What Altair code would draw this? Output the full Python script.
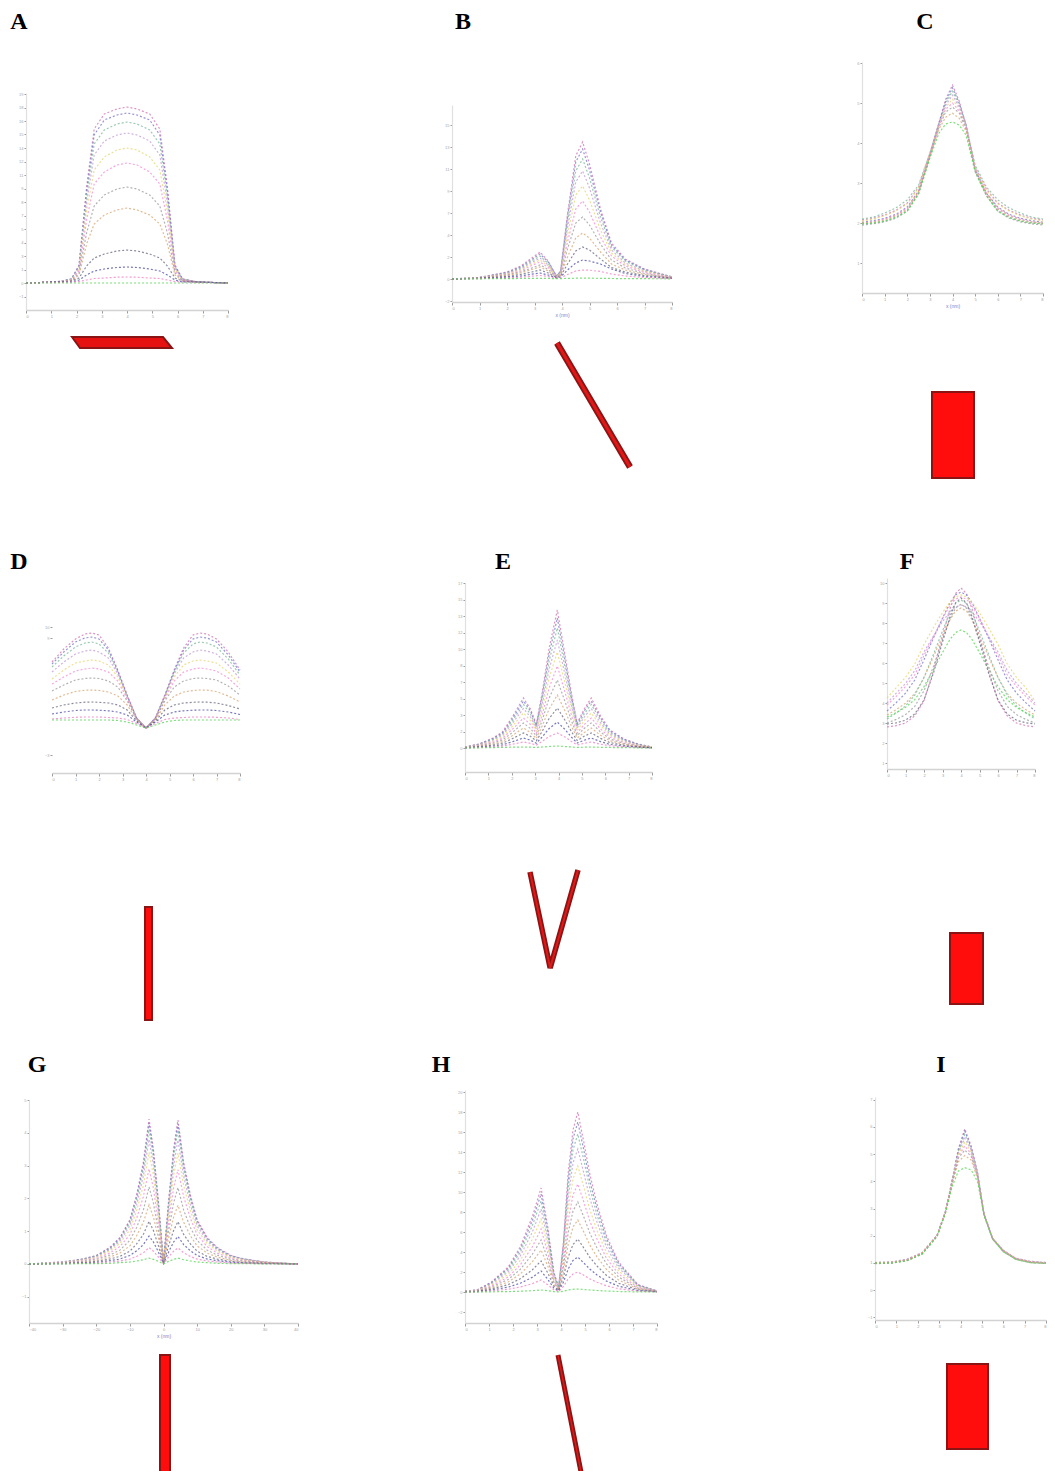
import altair as alt
import pandas as pd

# ---------------- values ----------------
X08 = [0, 1, 2, 3, 4, 5, 6, 7, 8]
G_XT = [-40, -30, -20, -10, 0, 10, 20, 30, 40]

A_YT = [-1.35, 0, 1.35, 2.7, 4.05, 5.4, 6.75, 8.1, 9.45, 10.8, 12.15, 13.5, 14.85, 16.2, 17.55, 18.9]
B_YT = [-2.2, 0, 2.2, 4.4, 6.6, 8.8, 11.0, 13.2, 15.4]
C_YT = [1, 2, 3, 4, 5, 6]
D_YT = [-2.7, 9.0, 10.1]
E_YT = [0, 1.65, 3.3, 4.95, 6.6, 8.25, 9.9, 11.55, 13.2, 14.85, 16.5]
F_YT = [1, 2, 3, 4, 5, 6, 7, 8, 9, 10]
G_YT = [-1, 0, 1, 2, 3, 4, 5]
H_YT = [-2, 0, 2, 4, 6, 8, 10, 12, 14, 16, 18, 20]
I_YT = [-1, 0, 1, 2, 3, 4, 5, 6, 7]

A_X = [0, 1.2, 1.8, 2.1, 2.4, 2.7, 3.1, 3.6, 4.0, 4.4, 4.9, 5.3, 5.6, 5.9, 6.2, 6.8, 8]
A_CURVES = [
    [0.0, 0.1, 0.4, 1.8, 9.6, 15.4, 16.9, 17.4, 17.6, 17.4, 16.9, 15.4, 9.6, 1.8, 0.4, 0.1, 0.0],
    [0.0, 0.1, 0.4, 1.7, 9.2, 14.8, 16.3, 16.8, 17.0, 16.8, 16.3, 14.8, 9.2, 1.7, 0.4, 0.1, 0.0],
    [0.0, 0.1, 0.4, 1.6, 8.7, 13.9, 15.3, 15.9, 16.1, 15.9, 15.3, 13.9, 8.7, 1.6, 0.4, 0.1, 0.0],
    [0.0, 0.1, 0.3, 1.5, 8.0, 12.8, 14.2, 14.8, 15.0, 14.8, 14.2, 12.8, 8.0, 1.5, 0.3, 0.1, 0.0],
    [0.0, 0.1, 0.3, 1.4, 7.2, 11.3, 12.6, 13.3, 13.5, 13.3, 12.6, 11.3, 7.2, 1.4, 0.3, 0.1, 0.0],
    [0.0, 0.1, 0.3, 1.2, 6.3, 9.9, 11.1, 11.8, 12.0, 11.8, 11.1, 9.9, 6.3, 1.2, 0.3, 0.1, 0.0],
    [0.0, 0.1, 0.2, 1.0, 5.0, 7.7, 8.8, 9.4, 9.6, 9.4, 8.8, 7.7, 5.0, 1.0, 0.2, 0.1, 0.0],
    [0.0, 0.1, 0.2, 0.8, 3.9, 5.9, 6.8, 7.3, 7.5, 7.3, 6.8, 5.9, 3.9, 0.8, 0.2, 0.1, 0.0],
    [0.0, 0.1, 0.2, 0.5, 1.7, 2.5, 2.9, 3.2, 3.3, 3.2, 2.9, 2.5, 1.7, 0.5, 0.2, 0.1, 0.0],
    [0.0, 0.1, 0.1, 0.3, 0.8, 1.2, 1.4, 1.55, 1.6, 1.55, 1.4, 1.2, 0.8, 0.3, 0.1, 0.1, 0.0],
    [0.0, 0.05, 0.1, 0.15, 0.3, 0.45, 0.5, 0.58, 0.6, 0.58, 0.5, 0.45, 0.3, 0.15, 0.1, 0.05, 0.0],
    [0.0, 0.0, 0.0, 0.0, 0.0, 0.0, 0.0, 0.0, 0.0, 0.0, 0.0, 0.0, 0.0, 0.0, 0.0, 0.0, 0.0],
]

B_X = [0, 1, 2, 2.5, 2.9, 3.2, 3.5, 3.8, 3.95, 4.2, 4.5, 4.75, 5.0, 5.4, 5.8, 6.3, 7, 8]
B_CURVES = [
    [0.0, 0.15, 0.7, 1.3, 2.1, 2.7, 1.8, 0.3, 0.8, 6.5, 12.3, 13.7, 11.5, 7.0, 3.6, 2.0, 1.0, 0.2],
    [0.0, 0.15, 0.65, 1.2, 1.95, 2.5, 1.7, 0.3, 0.8, 6.2, 11.7, 13.0, 10.9, 6.7, 3.4, 1.9, 0.95, 0.2],
    [0.0, 0.14, 0.6, 1.1, 1.8, 2.3, 1.55, 0.3, 0.7, 5.7, 10.8, 12.0, 10.1, 6.2, 3.2, 1.8, 0.9, 0.2],
    [0.0, 0.13, 0.55, 1.0, 1.65, 2.1, 1.4, 0.25, 0.65, 5.1, 9.7, 10.8, 9.1, 5.6, 2.9, 1.6, 0.8, 0.2],
    [0.0, 0.12, 0.5, 0.9, 1.5, 1.9, 1.3, 0.25, 0.6, 4.4, 8.4, 9.3, 7.9, 4.9, 2.6, 1.45, 0.75, 0.15],
    [0.0, 0.11, 0.45, 0.8, 1.35, 1.7, 1.15, 0.2, 0.5, 3.7, 7.0, 7.8, 6.7, 4.2, 2.3, 1.3, 0.65, 0.15],
    [0.0, 0.1, 0.4, 0.7, 1.1, 1.4, 0.95, 0.2, 0.45, 3.0, 5.6, 6.2, 5.4, 3.5, 1.9, 1.1, 0.55, 0.1],
    [0.0, 0.1, 0.35, 0.6, 0.95, 1.2, 0.8, 0.15, 0.35, 2.2, 4.1, 4.6, 4.1, 2.7, 1.5, 0.9, 0.45, 0.1],
    [0.0, 0.08, 0.25, 0.45, 0.7, 0.9, 0.6, 0.15, 0.3, 1.5, 2.8, 3.2, 2.9, 2.0, 1.15, 0.7, 0.35, 0.1],
    [0.0, 0.06, 0.18, 0.3, 0.48, 0.6, 0.4, 0.1, 0.2, 0.9, 1.6, 1.9, 1.8, 1.5, 1.0, 0.55, 0.25, 0.05],
    [0.0, 0.04, 0.1, 0.18, 0.28, 0.35, 0.25, 0.08, 0.12, 0.45, 0.8, 0.9, 0.88, 0.75, 0.5, 0.3, 0.15, 0.05],
    [0.0, 0.02, 0.04, 0.05, 0.06, 0.07, 0.06, 0.03, 0.04, 0.06, 0.08, 0.08, 0.08, 0.07, 0.05, 0.04, 0.03, 0.02],
]

C_X = [0, 0.5, 1, 1.5, 2, 2.5, 3, 3.4, 3.7, 4.0, 4.3, 4.6, 5, 5.5, 6, 6.5, 7, 7.5, 8]
C_CURVES = [
    [2.08, 2.12, 2.2, 2.32, 2.5, 2.9, 3.75, 4.5, 5.1, 5.45, 5.05, 4.45, 3.4, 2.85, 2.5, 2.32, 2.2, 2.12, 2.08],
    [2.02, 2.06, 2.12, 2.22, 2.4, 2.8, 3.7, 4.5, 5.05, 5.38, 5.0, 4.45, 3.35, 2.75, 2.4, 2.22, 2.12, 2.06, 2.02],
    [2.1, 2.15, 2.25, 2.38, 2.58, 2.95, 3.75, 4.5, 5.0, 5.3, 4.95, 4.45, 3.45, 2.9, 2.58, 2.38, 2.25, 2.15, 2.1],
    [1.98, 2.0, 2.05, 2.15, 2.32, 2.75, 3.68, 4.48, 4.95, 5.2, 4.9, 4.42, 3.3, 2.7, 2.32, 2.15, 2.05, 2.0, 1.98],
    [2.05, 2.1, 2.18, 2.3, 2.48, 2.88, 3.72, 4.45, 4.9, 5.1, 4.85, 4.4, 3.4, 2.82, 2.48, 2.3, 2.18, 2.1, 2.05],
    [2.0, 2.03, 2.1, 2.2, 2.38, 2.8, 3.7, 4.45, 4.85, 5.0, 4.8, 4.4, 3.35, 2.75, 2.38, 2.2, 2.1, 2.03, 2.0],
    [1.95, 1.98, 2.03, 2.12, 2.3, 2.74, 3.66, 4.4, 4.78, 4.9, 4.75, 4.35, 3.3, 2.68, 2.3, 2.12, 2.03, 1.98, 1.95],
    [2.0, 2.02, 2.08, 2.18, 2.35, 2.78, 3.66, 4.35, 4.65, 4.75, 4.62, 4.3, 3.32, 2.72, 2.35, 2.18, 2.08, 2.02, 2.0],
    [1.98, 2.0, 2.05, 2.14, 2.3, 2.72, 3.62, 4.25, 4.48, 4.53, 4.45, 4.2, 3.28, 2.68, 2.3, 2.14, 2.05, 2.0, 1.98],
]

D_X = [0, 0.5, 1.0, 1.4, 1.7, 2.0, 2.4, 2.8, 3.2, 3.6, 4.0, 4.4, 4.8, 5.2, 5.6, 6.0, 6.3, 6.6, 7.0, 7.5, 8.0]
D_CURVES = [
    [6.6, 7.9, 8.9, 9.4, 9.5, 9.3, 8.0, 5.8, 3.3, 1.0, 0.0, 1.0, 3.3, 5.8, 8.0, 9.3, 9.5, 9.4, 8.9, 7.6, 5.8],
    [6.4, 7.6, 8.6, 9.0, 9.1, 8.9, 7.8, 5.7, 3.2, 1.0, 0.0, 1.0, 3.2, 5.7, 7.8, 8.9, 9.1, 9.0, 8.6, 7.3, 5.6],
    [6.1, 7.2, 8.1, 8.5, 8.6, 8.4, 7.5, 5.6, 3.2, 1.0, 0.0, 1.0, 3.2, 5.6, 7.5, 8.4, 8.6, 8.5, 8.1, 6.9, 5.3],
    [5.6, 6.6, 7.4, 7.7, 7.8, 7.6, 7.0, 5.4, 3.1, 1.0, 0.0, 1.0, 3.1, 5.4, 7.0, 7.6, 7.8, 7.7, 7.4, 6.3, 4.9],
    [4.9, 5.8, 6.5, 6.7, 6.8, 6.7, 6.3, 5.1, 3.0, 0.9, 0.0, 0.9, 3.0, 5.1, 6.3, 6.7, 6.8, 6.7, 6.5, 5.6, 4.4],
    [4.4, 5.1, 5.7, 5.9, 6.0, 5.9, 5.6, 4.7, 2.9, 0.9, 0.0, 0.9, 2.9, 4.7, 5.6, 5.9, 6.0, 5.9, 5.7, 5.0, 3.9],
    [3.7, 4.3, 4.8, 4.95, 5.0, 4.95, 4.7, 4.1, 2.7, 0.9, 0.0, 0.9, 2.7, 4.1, 4.7, 4.95, 5.0, 4.95, 4.8, 4.2, 3.3],
    [2.8, 3.3, 3.65, 3.78, 3.8, 3.75, 3.6, 3.2, 2.3, 0.8, 0.0, 0.8, 2.3, 3.2, 3.6, 3.75, 3.8, 3.78, 3.65, 3.2, 2.6],
    [2.0, 2.3, 2.5, 2.58, 2.6, 2.57, 2.5, 2.3, 1.8, 0.7, 0.0, 0.7, 1.8, 2.3, 2.5, 2.57, 2.6, 2.58, 2.5, 2.25, 1.9],
    [1.4, 1.6, 1.75, 1.8, 1.8, 1.78, 1.72, 1.6, 1.3, 0.6, 0.0, 0.6, 1.3, 1.6, 1.72, 1.78, 1.8, 1.8, 1.75, 1.6, 1.35],
    [0.9, 1.0, 1.07, 1.1, 1.1, 1.1, 1.05, 1.0, 0.85, 0.45, 0.0, 0.45, 0.85, 1.0, 1.05, 1.1, 1.1, 1.1, 1.07, 1.0, 0.85],
    [0.8, 0.8, 0.8, 0.8, 0.8, 0.8, 0.8, 0.75, 0.6, 0.3, 0.0, 0.3, 0.6, 0.75, 0.8, 0.8, 0.8, 0.8, 0.8, 0.8, 0.8],
]

E_X = [0, 0.6, 1.2, 1.6, 2.0, 2.5, 2.8, 3.05, 3.3, 3.6, 3.95, 4.3, 4.55, 4.8, 5.1, 5.4, 5.8, 6.2, 6.8, 7.4, 8]
E_CURVES = [
    [0.1, 0.4, 1.0, 1.6, 3.0, 5.0, 3.9, 2.4, 5.5, 10.0, 13.8, 9.0, 5.5, 2.5, 3.9, 5.0, 3.2, 1.8, 0.9, 0.4, 0.1],
    [0.1, 0.38, 0.94, 1.5, 2.8, 4.7, 3.7, 2.25, 5.2, 9.4, 13.0, 8.5, 5.2, 2.35, 3.7, 4.7, 3.0, 1.7, 0.85, 0.38, 0.1],
    [0.1, 0.35, 0.87, 1.4, 2.6, 4.35, 3.4, 2.1, 4.8, 8.7, 12.0, 7.8, 4.8, 2.2, 3.4, 4.35, 2.8, 1.55, 0.8, 0.35, 0.1],
    [0.08, 0.32, 0.79, 1.26, 2.37, 3.95, 3.1, 1.9, 4.35, 7.9, 10.8, 7.1, 4.35, 2.0, 3.1, 3.95, 2.5, 1.4, 0.72, 0.32, 0.08],
    [0.07, 0.28, 0.7, 1.12, 2.1, 3.5, 2.75, 1.7, 3.85, 7.0, 9.6, 6.3, 3.85, 1.75, 2.75, 3.5, 2.25, 1.26, 0.63, 0.28, 0.07],
    [0.06, 0.24, 0.6, 0.96, 1.8, 3.0, 2.35, 1.45, 3.3, 6.0, 8.2, 5.4, 3.3, 1.5, 2.35, 3.0, 1.9, 1.08, 0.54, 0.24, 0.06],
    [0.05, 0.2, 0.5, 0.8, 1.5, 2.5, 1.95, 1.2, 2.75, 5.0, 6.8, 4.5, 2.75, 1.25, 1.95, 2.5, 1.6, 0.9, 0.45, 0.2, 0.05],
    [0.04, 0.16, 0.4, 0.64, 1.2, 2.0, 1.55, 0.95, 2.2, 3.9, 5.3, 3.6, 2.2, 1.0, 1.55, 2.0, 1.28, 0.72, 0.36, 0.16, 0.04],
    [0.03, 0.12, 0.3, 0.48, 0.9, 1.5, 1.17, 0.72, 1.65, 2.95, 4.0, 2.7, 1.65, 0.75, 1.17, 1.5, 0.96, 0.54, 0.27, 0.12, 0.03],
    [0.02, 0.08, 0.2, 0.32, 0.6, 1.0, 0.78, 0.48, 1.1, 1.95, 2.6, 1.8, 1.1, 0.5, 0.78, 1.0, 0.64, 0.36, 0.18, 0.08, 0.02],
    [0.01, 0.05, 0.12, 0.19, 0.36, 0.6, 0.47, 0.29, 0.66, 1.15, 1.5, 1.08, 0.66, 0.3, 0.47, 0.6, 0.38, 0.22, 0.11, 0.05, 0.01],
    [0.0, 0.02, 0.04, 0.06, 0.08, 0.1, 0.08, 0.06, 0.1, 0.15, 0.2, 0.14, 0.1, 0.06, 0.08, 0.1, 0.07, 0.05, 0.03, 0.02, 0.0],
]

F_X = [0, 0.5, 1, 1.5, 2, 2.5, 3, 3.4, 3.7, 4.0, 4.3, 4.6, 5, 5.5, 6, 6.5, 7, 7.5, 8]
F_CURVES = [
    [2.8, 2.87, 3.0, 3.36, 4.12, 5.58, 7.32, 8.7, 9.47, 9.75, 9.47, 8.7, 7.32, 5.58, 4.12, 3.36, 3.0, 2.87, 2.8],
    [3.6, 4.02, 4.49, 5.15, 6.16, 7.23, 8.24, 9.01, 9.4, 9.55, 9.4, 9.01, 8.24, 7.23, 6.16, 5.15, 4.49, 4.02, 3.6],
    [3.2, 3.5, 3.85, 4.39, 5.28, 6.41, 7.6, 8.5, 8.97, 9.15, 8.97, 8.5, 7.6, 6.41, 5.28, 4.39, 3.85, 3.5, 3.2],
    [4.0, 4.49, 4.98, 5.62, 6.55, 7.33, 8.07, 8.56, 8.8, 8.9, 8.8, 8.56, 8.07, 7.33, 6.55, 5.62, 4.98, 4.49, 4.0],
    [4.25, 4.77, 5.28, 5.95, 6.93, 7.75, 8.52, 9.04, 9.3, 9.4, 9.3, 9.04, 8.52, 7.75, 6.93, 5.95, 5.28, 4.77, 4.1],
    [3.9, 4.33, 4.82, 5.41, 6.38, 7.3, 8.22, 8.87, 9.19, 9.3, 9.19, 8.87, 8.22, 7.3, 6.38, 5.41, 4.82, 4.33, 3.9],
    [3.0, 3.18, 3.42, 3.83, 4.61, 5.8, 7.17, 8.18, 8.74, 8.95, 8.74, 8.18, 7.17, 5.8, 4.61, 3.83, 3.42, 3.18, 3.0],
    [3.4, 3.67, 3.99, 4.47, 5.27, 6.29, 7.36, 8.16, 8.59, 8.75, 8.59, 8.16, 7.36, 6.29, 5.27, 4.47, 3.99, 3.67, 3.4],
    [2.95, 3.01, 3.14, 3.45, 4.15, 5.47, 7.05, 8.3, 9.0, 9.25, 9.0, 8.3, 7.05, 5.47, 4.15, 3.45, 3.14, 3.01, 2.95],
    [3.3, 3.52, 3.78, 4.17, 4.82, 5.65, 6.52, 7.17, 7.52, 7.65, 7.52, 7.17, 6.52, 5.65, 4.82, 4.17, 3.78, 3.52, 3.3],
]

G_X = [-40, -30, -24, -20, -16, -13, -10, -8, -6, -4.3, -3, -1.5, 0, 1.5, 3, 4.3, 6, 8, 10, 13, 16, 20, 24, 30, 40]
G_CURVES = [
    [0.0, 0.06, 0.15, 0.26, 0.5, 0.8, 1.35, 2.1, 3.1, 4.42, 3.5, 1.9, 0.05, 1.9, 3.5, 4.39, 3.1, 2.1, 1.35, 0.8, 0.5, 0.26, 0.15, 0.06, 0.0],
    [0.0, 0.06, 0.15, 0.25, 0.48, 0.78, 1.31, 2.04, 3.0, 4.3, 3.4, 1.85, 0.05, 1.85, 3.4, 4.27, 3.0, 2.04, 1.31, 0.78, 0.48, 0.25, 0.15, 0.06, 0.0],
    [0.0, 0.05, 0.14, 0.24, 0.46, 0.74, 1.25, 1.95, 2.88, 4.1, 3.25, 1.77, 0.05, 1.77, 3.25, 4.08, 2.88, 1.95, 1.25, 0.74, 0.46, 0.24, 0.14, 0.05, 0.0],
    [0.0, 0.05, 0.13, 0.22, 0.43, 0.69, 1.16, 1.8, 2.67, 3.8, 3.0, 1.63, 0.04, 1.63, 3.0, 3.78, 2.67, 1.8, 1.16, 0.69, 0.43, 0.22, 0.13, 0.05, 0.0],
    [0.0, 0.05, 0.12, 0.2, 0.39, 0.62, 1.04, 1.62, 2.39, 3.4, 2.7, 1.46, 0.04, 1.46, 2.7, 3.38, 2.39, 1.62, 1.04, 0.62, 0.39, 0.2, 0.12, 0.05, 0.0],
    [0.0, 0.04, 0.1, 0.17, 0.33, 0.53, 0.89, 1.39, 2.05, 2.9, 2.31, 1.25, 0.03, 1.25, 2.31, 2.88, 2.05, 1.39, 0.89, 0.53, 0.33, 0.17, 0.1, 0.04, 0.0],
    [0.0, 0.03, 0.08, 0.14, 0.27, 0.42, 0.72, 1.11, 1.64, 2.35, 1.86, 1.0, 0.03, 1.0, 1.86, 2.33, 1.64, 1.11, 0.72, 0.42, 0.27, 0.14, 0.08, 0.03, 0.0],
    [0.0, 0.02, 0.06, 0.11, 0.21, 0.33, 0.55, 0.86, 1.27, 1.8, 1.43, 0.78, 0.02, 0.78, 1.43, 1.79, 1.27, 0.86, 0.55, 0.33, 0.21, 0.11, 0.06, 0.02, 0.0],
    [0.0, 0.02, 0.04, 0.08, 0.15, 0.23, 0.39, 0.61, 0.9, 1.3, 1.02, 0.55, 0.02, 0.55, 1.02, 1.29, 0.9, 0.61, 0.39, 0.23, 0.15, 0.08, 0.04, 0.02, 0.0],
    [0.0, 0.01, 0.03, 0.05, 0.1, 0.15, 0.26, 0.4, 0.59, 0.85, 0.67, 0.36, 0.01, 0.36, 0.67, 0.84, 0.59, 0.4, 0.26, 0.15, 0.1, 0.05, 0.03, 0.01, 0.0],
    [0.0, 0.01, 0.02, 0.03, 0.06, 0.09, 0.15, 0.23, 0.34, 0.5, 0.39, 0.21, 0.01, 0.21, 0.39, 0.49, 0.34, 0.23, 0.15, 0.09, 0.06, 0.03, 0.02, 0.01, 0.0],
    [0.0, 0.0, 0.01, 0.01, 0.02, 0.04, 0.06, 0.09, 0.13, 0.18, 0.14, 0.08, 0.0, 0.08, 0.14, 0.18, 0.13, 0.09, 0.06, 0.04, 0.02, 0.01, 0.01, 0.0, 0.0],
]

H_X = [0, 0.5, 1.1, 1.8, 2.3, 2.8, 3.17, 3.45, 3.7, 3.9, 4.1, 4.3, 4.5, 4.7, 4.95, 5.2, 5.5, 5.9, 6.4, 7.2, 8]
H_CURVES = [
    [0.1, 0.2, 1.0, 2.5, 4.5, 7.5, 10.4, 6.5, 2.0, 0.5, 5.0, 11.9, 16.2, 18.0, 15.0, 11.8, 8.8, 5.6, 3.0, 0.75, 0.1],
    [0.1, 0.19, 0.94, 2.36, 4.25, 7.1, 9.8, 6.1, 1.9, 0.45, 4.7, 11.2, 15.3, 17.0, 14.2, 11.1, 8.3, 5.3, 2.85, 0.7, 0.1],
    [0.09, 0.18, 0.88, 2.2, 3.95, 6.6, 9.1, 5.7, 1.75, 0.42, 4.4, 10.4, 14.2, 15.8, 13.2, 10.4, 7.7, 4.9, 2.65, 0.66, 0.09],
    [0.08, 0.16, 0.8, 2.0, 3.6, 5.95, 8.3, 5.15, 1.6, 0.4, 4.0, 9.45, 12.9, 14.3, 11.9, 9.4, 7.0, 4.45, 2.4, 0.6, 0.08],
    [0.07, 0.14, 0.7, 1.75, 3.15, 5.25, 7.3, 4.55, 1.4, 0.35, 3.5, 8.3, 11.3, 12.6, 10.5, 8.25, 6.15, 3.9, 2.1, 0.53, 0.07],
    [0.06, 0.12, 0.6, 1.5, 2.7, 4.5, 6.3, 3.9, 1.2, 0.3, 3.0, 7.15, 9.7, 10.8, 9.0, 7.1, 5.3, 3.35, 1.8, 0.45, 0.06],
    [0.05, 0.1, 0.5, 1.25, 2.25, 3.75, 5.2, 3.25, 1.0, 0.25, 2.5, 5.95, 8.1, 9.0, 7.5, 5.9, 4.4, 2.8, 1.5, 0.38, 0.05],
    [0.04, 0.08, 0.4, 1.0, 1.8, 3.0, 4.2, 2.6, 0.8, 0.2, 2.0, 4.75, 6.5, 7.2, 6.0, 4.7, 3.5, 2.25, 1.2, 0.3, 0.04],
    [0.03, 0.06, 0.3, 0.74, 1.32, 2.2, 3.1, 1.9, 0.6, 0.15, 1.47, 3.5, 4.75, 5.3, 4.4, 3.47, 2.6, 1.65, 0.88, 0.22, 0.03],
    [0.02, 0.04, 0.2, 0.49, 0.87, 1.46, 2.1, 1.26, 0.39, 0.1, 0.97, 2.3, 3.15, 3.5, 2.9, 2.3, 1.7, 1.09, 0.58, 0.15, 0.02],
    [0.01, 0.02, 0.11, 0.28, 0.5, 0.83, 1.2, 0.72, 0.22, 0.06, 0.55, 1.32, 1.8, 2.0, 1.67, 1.31, 0.98, 0.62, 0.33, 0.08, 0.01],
    [0.0, 0.0, 0.02, 0.04, 0.08, 0.13, 0.2, 0.12, 0.04, 0.01, 0.08, 0.2, 0.27, 0.3, 0.25, 0.2, 0.15, 0.1, 0.05, 0.01, 0.0],
]

I_X = [0, 0.8, 1.5, 2.2, 2.9, 3.3, 3.6, 3.9, 4.2, 4.5, 4.8, 5.1, 5.5, 6.0, 6.6, 7.3, 8]
I_CURVES = [
    [0.98, 1.0, 1.1, 1.35, 2.0, 2.9, 4.0, 5.2, 5.93, 5.3, 4.3, 2.8, 1.9, 1.45, 1.15, 1.03, 1.0],
    [1.0, 1.02, 1.12, 1.36, 2.0, 2.9, 4.0, 5.15, 5.85, 5.25, 4.3, 2.8, 1.9, 1.45, 1.15, 1.04, 1.0],
    [0.97, 0.99, 1.08, 1.33, 1.98, 2.88, 3.98, 5.1, 5.72, 5.2, 4.28, 2.78, 1.88, 1.42, 1.13, 1.01, 0.98],
    [1.02, 1.04, 1.14, 1.38, 2.02, 2.9, 3.97, 5.05, 5.58, 5.15, 4.25, 2.8, 1.92, 1.47, 1.17, 1.06, 1.02],
    [0.99, 1.01, 1.1, 1.34, 1.99, 2.88, 3.95, 4.98, 5.45, 5.08, 4.22, 2.78, 1.89, 1.43, 1.14, 1.02, 0.99],
    [1.0, 1.02, 1.11, 1.35, 2.0, 2.88, 3.93, 4.92, 5.3, 5.0, 4.2, 2.79, 1.9, 1.44, 1.15, 1.03, 1.0],
    [0.98, 1.0, 1.09, 1.33, 1.97, 2.86, 3.9, 4.85, 5.15, 4.92, 4.16, 2.77, 1.88, 1.42, 1.13, 1.01, 0.98],
    [1.01, 1.03, 1.12, 1.36, 2.0, 2.87, 3.87, 4.72, 4.95, 4.78, 4.1, 2.78, 1.9, 1.45, 1.16, 1.04, 1.01],
    [0.99, 1.0, 1.08, 1.32, 1.96, 2.83, 3.78, 4.38, 4.5, 4.42, 3.98, 2.74, 1.87, 1.41, 1.12, 1.0, 0.99],
]

LETTERS = ["A", "B", "C", "D", "E", "F", "G", "H", "I"]
X_TITLE = "x (nm)"

# ---------------- styling / layout ----------------
W, H, M = 1039, 1463, 8
PALETTE = ["#d070b0", "#7474c8", "#78b898", "#c09ad6", "#e6d670", "#f48ad6",
           "#9a9a9a", "#d8a470", "#66667e", "#4a4aa8", "#f07cc0"]
GREEN = "#4cd84c"
RED = "#ff0d0d"
DARK_RED = "#8a1414"

PANELS = {
    "A": dict(xs=A_X, cs=A_CURVES, xdom=[0, 8], xpx=[26, 228], ydom=[-2.7, 19.0], ypx=[310, 93], xt=X08, yt=A_YT, pos=(19, 22)),
    "B": dict(xs=B_X, cs=B_CURVES, xdom=[0, 8], xpx=[452, 672], ydom=[-2.3, 17.4], ypx=[302, 105], xt=X08, yt=B_YT, pos=(463, 22), title=True),
    "C": dict(xs=C_X, cs=C_CURVES, xdom=[0, 8], xpx=[862, 1043], ydom=[0.25, 6.03], ypx=[293, 62], xt=X08, yt=C_YT, pos=(925, 22), title=True),
    "D": dict(xs=D_X, cs=D_CURVES, xdom=[0, 8], xpx=[52, 240], ydom=[-4.5, 10.8], ypx=[773, 620], xt=X08, yt=D_YT, pos=(19, 562), nodomain=True),
    "E": dict(xs=E_X, cs=E_CURVES, xdom=[0, 8], xpx=[465, 652], ydom=[-2.4, 16.5], ypx=[772, 583], xt=X08, yt=E_YT, pos=(503, 562)),
    "F": dict(xs=F_X, cs=F_CURVES, xdom=[0, 8], xpx=[887, 1035], ydom=[0.7, 10.25], ypx=[769, 578], xt=X08, yt=F_YT, pos=(907, 562)),
    "G": dict(xs=G_X, cs=G_CURVES, xdom=[-40, 40], xpx=[29, 298], ydom=[-1.8, 5.0], ypx=[1323, 1100], xt=G_XT, yt=G_YT, pos=(37, 1065), title=True),
    "H": dict(xs=H_X, cs=H_CURVES, xdom=[0, 8], xpx=[465, 657], ydom=[-3.1, 20.2], ypx=[1323, 1090], xt=X08, yt=H_YT, pos=(441, 1065)),
    "I": dict(xs=I_X, cs=I_CURVES, xdom=[0, 8], xpx=[875, 1046], ydom=[-1.1, 7.1], ypx=[1320, 1097], xt=X08, yt=I_YT, pos=(941, 1065)),
}


def curves_frame(xs, curves, tag):
    rows = []
    for i, ys in enumerate(curves):
        for xv, yv in zip(xs, ys):
            rows.append({"x": xv, "y": yv, "curve": f"{tag}{i + 1:02d}"})
    return pd.DataFrame(rows)


def panel_chart(tag, p):
    df = curves_frame(p["xs"], p["cs"], tag)
    n = len(p["cs"])
    ids = [f"{tag}{i + 1:02d}" for i in range(n)]
    cols = PALETTE[: n - 1] + [GREEN]
    xaxis = alt.Axis(orient="bottom", offset=(p["ypx"][0] - M) - H, values=p["xt"], grid=False,
                     domainColor="#d2d2d2", domainWidth=1.6, tickColor="#9a9a9a", tickSize=3,
                     labelFontSize=4, labelColor="#a0a0a0", labelPadding=1,
                     title=X_TITLE if p.get("title") else None, titleFontSize=5,
                     titleColor="#8080c8", titleFontWeight="normal", titlePadding=2)
    yaxis = alt.Axis(orient="left", offset=-(p["xpx"][0] - M), values=p["yt"], grid=False,
                     domain=not p.get("nodomain", False),
                     domainColor="#e0e0e0", domainWidth=1.2, tickColor="#9a9a9a", tickSize=2,
                     labelFontSize=4, labelColor="#a8a8a8", labelPadding=1, title=None)
    return alt.Chart(df).mark_line(strokeWidth=1.2, strokeDash=[2, 2], opacity=0.75).encode(
        x=alt.X("x:Q", scale=alt.Scale(domain=p["xdom"], range=[v - M for v in p["xpx"]], nice=False, zero=False), axis=xaxis),
        y=alt.Y("y:Q", scale=alt.Scale(domain=p["ydom"], range=[v - M for v in p["ypx"]], nice=False, zero=False), axis=yaxis),
        color=alt.Color("curve:N", scale=alt.Scale(domain=ids, range=cols), legend=None),
    )


def letter_chart(letter, pos):
    return alt.Chart(pd.DataFrame({"t": [letter]})).mark_text(
        font="Liberation Serif", fontWeight="bold", fontSize=24, color="black",
        align="center", baseline="middle").encode(
        x=alt.value(pos[0] - M), y=alt.value(pos[1] - M), text="t:N")


def box_scales(bx, by):
    sx = alt.Scale(domain=[0, 1], range=[bx[0] - M, bx[1] - M], nice=False, zero=False)
    sy = alt.Scale(domain=[0, 1], range=[by[0] - M, by[1] - M], nice=False, zero=False)
    return sx, sy


def rect_shape(bx, by):
    sx, sy = box_scales(bx, by)
    df = pd.DataFrame({"x0": [0.0], "x1": [1.0], "y0": [0.0], "y1": [1.0]})
    return alt.Chart(df).mark_rect(fill=RED, stroke=DARK_RED, strokeWidth=2).encode(
        x=alt.X("x0:Q", scale=sx, axis=None), x2="x1:Q",
        y=alt.Y("y0:Q", scale=sy, axis=None), y2="y1:Q")


def stroke_shape(xs, ys, bx, by, width):
    sx, sy = box_scales(bx, by)
    df = pd.DataFrame({"x": xs, "y": ys, "i": list(range(len(xs)))})
    enc = dict(x=alt.X("x:Q", scale=sx, axis=None), y=alt.Y("y:Q", scale=sy, axis=None), order="i:Q")
    outer = alt.Chart(df).mark_line(color=DARK_RED, strokeWidth=width, strokeCap="butt", strokeJoin="miter").encode(**enc)
    inner = alt.Chart(df).mark_line(color="#e01818", strokeWidth=max(width - 3.5, 1.5), strokeCap="butt", strokeJoin="miter").encode(**enc)
    return [outer, inner]


def slab_shape(bx, by):
    sx, sy = box_scales(bx, by)
    df = pd.DataFrame({"y": [0.0, 1.0], "xl": [0.08, 0.0], "xr": [1.0, 0.91]})
    return alt.Chart(df).mark_area(orient="horizontal", fill="#e61212", stroke=DARK_RED, strokeWidth=2).encode(
        y=alt.Y("y:Q", scale=sy, axis=None),
        x=alt.X("xl:Q", scale=sx, axis=None), x2="xr:Q")


layers = []
for tag in LETTERS:
    layers.append(panel_chart(tag, PANELS[tag]))

# nanostructure sketches under each panel
layers.append(slab_shape([72, 172], [348, 337]))
layers += stroke_shape([0, 1], [1, 0], [557, 630], [467, 343], 6.5)
layers.append(rect_shape([932, 974], [478, 392]))
layers.append(rect_shape([145, 152], [1020, 907]))
layers += stroke_shape([0, 0.42, 1], [0.98, 0, 1], [530, 578], [968, 870], 5.5)
layers.append(rect_shape([950, 983], [1004, 933]))
layers.append(rect_shape([160, 170], [1476, 1355]))
layers += stroke_shape([0, 1], [1, 0], [558, 582], [1477, 1355], 5)
layers.append(rect_shape([947, 988], [1449, 1364]))

for tag in LETTERS:
    layers.append(letter_chart(tag, PANELS[tag]["pos"]))

chart = alt.layer(*layers).resolve_scale(
    x="independent", y="independent", color="independent"
).properties(
    width=W, height=H, padding=0, autosize="none"
).configure_view(stroke=None)

chart.save("out.html", embed_options={"renderer": "svg", "actions": False})
